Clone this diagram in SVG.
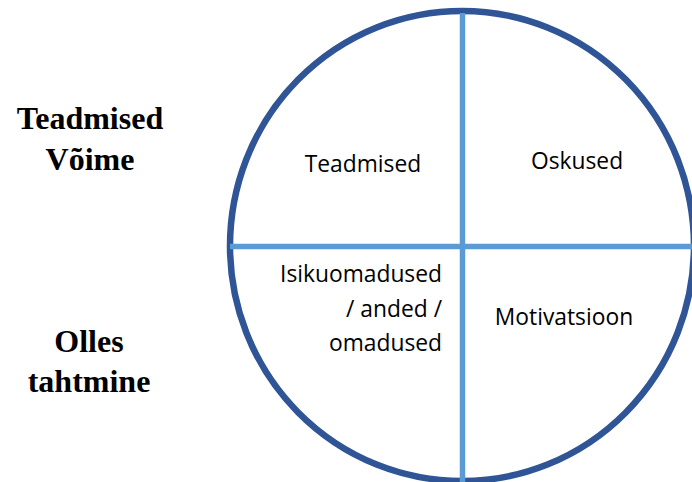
<svg xmlns="http://www.w3.org/2000/svg" width="692" height="482" viewBox="0 0 692 482">
<style>
.side{font-family:"Liberation Serif","Times New Roman",serif;font-weight:bold;font-size:32px;fill:#000;text-anchor:middle}
.q{font-family:"Open Sans","Noto Sans",sans-serif;font-size:22.8px;fill:#000}
.div{stroke:#5B9BD5;stroke-width:5.5;fill:none}
</style>
<rect width="692" height="482" fill="#fff"/>
<g id="circle">
<ellipse cx="462" cy="246" rx="232" ry="235" fill="#fff" stroke="#2F5597" stroke-width="6.5"/>
</g>
<g id="connectors">
<line class="div" x1="462.5" y1="13" x2="462.5" y2="482"/>
<line class="div" x1="230" y1="246.5" x2="692" y2="246.5"/>
</g>
<g id="label-voime">
<text class="side" x="90" y="129">Teadmised</text>
<text class="side" x="90" y="170">Võime</text>
</g>
<g id="label-tahtmine">
<text class="side" x="89" y="352">Olles</text>
<text class="side" x="89" y="392">tahtmine</text>
</g>
<g id="q-teadmised"><text class="q" x="363" y="172" text-anchor="middle">Teadmised</text></g>
<g id="q-oskused"><text class="q" x="577" y="169" text-anchor="middle">Oskused</text></g>
<g id="q-isiku">
<text class="q" x="442" y="282" text-anchor="end">Isikuomadused</text>
<text class="q" x="442" y="317" text-anchor="end">/ anded /</text>
<text class="q" x="442" y="351" text-anchor="end">omadused</text>
</g>
<g id="q-motivatsioon"><text class="q" x="564" y="325" text-anchor="middle">Motivatsioon</text></g>
</svg>
